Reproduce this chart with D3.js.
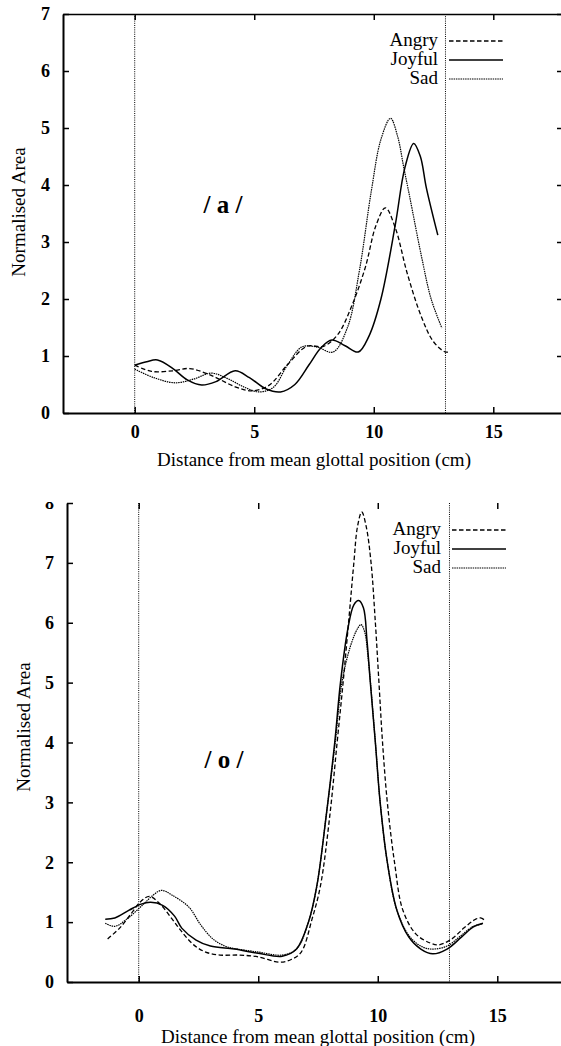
<!DOCTYPE html>
<html>
  <head>
    <meta charset="utf-8">
    <script src="https://cdn.jsdelivr.net/npm/d3@7"></script>
    <style>
      body { margin: 0; background: #fff; }
    </style>
  </head>
  <body>
    <script type="text/javascript">
      // ---- data ----
      var seriesNames = ["Angry", "Joyful", "Sad"];
      var xTickValues = [0, 5, 10, 15];
      var yTicksA = [0, 1, 2, 3, 4, 5, 6, 7];
      var yTicksO = [0, 1, 2, 3, 4, 5, 6, 7, 8];
      var markerLines = [0, 13];   // dotted verticals (cm)

      // vowel /a/  [distance cm, normalised area]
      var angryA = [[0,0.84],[0.7,0.73],[1.6,0.74],[2.3,0.78],[3.2,0.66],[4.2,0.46],[4.9,0.39],[5.6,0.48],
        [6.4,0.85],[7.2,1.17],[7.9,1.17],[8.5,1.38],[9.1,1.9],[9.65,2.56],[10.1,3.3],[10.49,3.6],[10.9,3.25],
        [11.4,2.45],[12.0,1.68],[12.5,1.25],[13.0,1.07],[13.2,1.08]];
      var joyfulA = [[0,0.84],[0.5,0.9],[0.95,0.93],[1.6,0.78],[2.2,0.58],[2.8,0.49],[3.4,0.55],[4.2,0.74],
        [4.8,0.62],[5.5,0.42],[6.1,0.37],[6.7,0.5],[7.3,0.85],[7.8,1.15],[8.25,1.28],[8.8,1.18],[9.35,1.07],
        [9.8,1.35],[10.3,2.0],[10.9,3.3],[11.3,4.3],[11.67,4.73],[11.95,4.5],[12.2,3.95],[12.68,3.12]];
      var sadA = [[0,0.77],[0.8,0.62],[1.7,0.53],[2.5,0.6],[3.2,0.7],[3.9,0.6],[4.6,0.45],[5.2,0.37],[5.8,0.45],
        [6.4,0.85],[7.0,1.16],[7.6,1.16],[8.3,1.07],[8.9,1.5],[9.4,2.5],[9.9,3.9],[10.3,4.8],[10.7,5.17],
        [11.0,4.85],[11.25,4.32],[11.5,3.8],[12.0,2.74],[12.4,2.0],[12.85,1.49]];

      // vowel /o/
      var angryO = [[-1.3,0.72],[-0.8,0.9],[-0.3,1.15],[0.1,1.35],[0.45,1.43],[0.9,1.3],[1.4,1.05],[1.8,0.84],
        [2.3,0.62],[2.8,0.5],[3.4,0.45],[4.2,0.45],[5.0,0.42],[5.9,0.33],[6.4,0.38],[6.8,0.5],[7.25,1.05],
        [7.6,1.6],[8.0,2.8],[8.3,4.0],[8.55,5.0],[8.8,6.1],[9.0,7.0],[9.15,7.6],[9.33,7.85],[9.52,7.6],[9.72,7.0],
        [9.9,6.0],[10.05,5.0],[10.2,4.0],[10.4,3.0],[10.7,2.0],[11.05,1.2],[11.6,0.8],[12.2,0.65],[12.55,0.62],
        [13.1,0.72],[13.6,0.9],[14.1,1.05],[14.3,1.07],[14.45,1.04]];
      var joyfulO = [[-1.4,1.05],[-1.0,1.07],[-0.4,1.2],[0.1,1.3],[0.5,1.33],[1.0,1.28],[1.5,1.1],[1.8,0.9],
        [2.4,0.7],[3.0,0.6],[4.0,0.55],[5.0,0.48],[6.0,0.43],[6.6,0.55],[7.1,1.0],[7.45,1.6],[7.85,2.8],
        [8.2,4.0],[8.44,5.0],[8.75,5.9],[9.0,6.3],[9.2,6.37],[9.4,6.25],[9.55,5.7],[9.69,5.0],[9.9,4.0],
        [10.1,3.0],[10.4,2.0],[10.8,1.2],[11.3,0.75],[11.8,0.55],[12.3,0.47],[12.9,0.55],[13.5,0.75],
        [14.0,0.92],[14.4,0.98]];
      var sadO = [[-1.4,0.98],[-1.0,0.93],[-0.5,1.05],[0.2,1.3],[0.6,1.45],[0.95,1.53],[1.4,1.45],[2.1,1.25],
        [2.6,0.95],[3.1,0.72],[3.6,0.6],[4.0,0.56],[5.0,0.5],[6.0,0.45],[6.6,0.55],[7.1,1.0],[7.45,1.6],
        [7.85,2.8],[8.22,4.0],[8.5,5.0],[8.85,5.6],[9.15,5.9],[9.3,5.97],[9.45,5.85],[9.6,5.4],[9.9,4.0],
        [10.1,3.0],[10.4,2.0],[10.8,1.2],[11.35,0.75],[11.9,0.58],[12.3,0.55],[12.9,0.6],[13.5,0.78],
        [14.0,0.93],[14.4,0.97]];

      // ---- drawing ----
      var serif = "'Liberation Serif', 'DejaVu Serif', serif";
      var styles = {
        Angry:  { dash: "4.5,2.5", width: 1.3, color: "#000" },
        Joyful: { dash: null,      width: 1.5, color: "#000" },
        Sad:    { dash: "1.5,0.8", width: 1.2, color: "#000" }
      };

      var svg = d3.select("body").append("svg")
        .attr("width", 561)
        .attr("height", 1046);

      function drawPanel(cfg) {
        var g = svg.append("g");
        var x = d3.scaleLinear().domain([-3, 18]).range([cfg.left, cfg.right]);
        var y = d3.scaleLinear().domain([0, cfg.yMax]).range([cfg.bottom, cfg.top]);

        // clip so that labels cut by the scan stay cut
        var clipId = "clip" + cfg.id;
        svg.append("clipPath").attr("id", clipId)
          .append("rect").attr("x", 0).attr("y", cfg.clipTop).attr("width", 561).attr("height", 600);
        g.attr("clip-path", "url(#" + clipId + ")");

        // left axis
        var left = g.append("g").attr("transform", "translate(" + cfg.left + ",0)")
          .call(d3.axisLeft(y).tickValues(cfg.yTicks).tickFormat(d3.format("d"))
            .tickSize(-6).tickSizeOuter(0).tickPadding(13));
        // bottom axis
        var bottom = g.append("g").attr("transform", "translate(0," + cfg.bottom + ")")
          .call(d3.axisBottom(x).tickValues(xTickValues).tickFormat(d3.format("d"))
            .tickSize(-6).tickSizeOuter(0).tickPadding(cfg.xPad));
        // top ticks (border line only where the scan shows it)
        var top = g.append("g").attr("transform", "translate(0," + cfg.top + ")")
          .call(d3.axisTop(x).tickValues(xTickValues).tickSize(-6).tickSizeOuter(0).tickFormat(""));
        if (!cfg.topLine) top.select(".domain").remove();
        // right ticks, axis itself falls outside the picture
        var right = g.append("g").attr("transform", "translate(" + (cfg.right) + ",0)")
          .call(d3.axisRight(y).tickValues(cfg.yTicks.slice(1)).tickSize(-8).tickSizeOuter(0).tickFormat(""));
        right.select(".domain").remove();

        [left, bottom].forEach(function (a) {
          a.select(".domain").attr("stroke-width", 2);
          a.selectAll(".tick line").attr("stroke-width", 1.5);
          a.selectAll(".tick text")
            .style("font-family", serif)
            .style("font-size", "18px")
            .style("font-weight", "bold");
        });
        top.select(".domain").attr("stroke-width", 1.5);
        top.selectAll(".tick line").attr("stroke-width", 1.5);
        right.selectAll(".tick line").attr("stroke-width", 1.5);

        // dotted marker lines
        g.selectAll(".marker").data(markerLines).enter().append("line")
          .attr("x1", function (d) { return x(d); })
          .attr("x2", function (d) { return x(d); })
          .attr("y1", cfg.top)
          .attr("y2", cfg.bottom)
          .attr("stroke", "#000")
          .attr("stroke-width", 1)
          .attr("stroke-dasharray", "1,1.2");

        // curves
        var line = d3.line()
          .x(function (d) { return x(d[0]); })
          .y(function (d) { return y(d[1]); })
          .curve(d3.curveCatmullRom.alpha(0.5));
        cfg.series.forEach(function (s, i) {
          var st = styles[seriesNames[i]];
          g.append("path")
            .datum(s)
            .attr("d", line)
            .attr("fill", "none")
            .attr("stroke", st.color)
            .attr("stroke-width", st.width)
            .attr("stroke-dasharray", st.dash);
        });

        // legend
        seriesNames.forEach(function (name, i) {
          var st = styles[name];
          var ly = cfg.legendY + i * 19;
          g.append("text")
            .attr("x", cfg.legendX)
            .attr("y", ly + 5)
            .attr("text-anchor", "end")
            .style("font-family", serif)
            .style("font-size", "19px")
            .text(name);
          g.append("line")
            .attr("x1", cfg.legendX + 11).attr("x2", cfg.legendX + 65)
            .attr("y1", ly).attr("y2", ly)
            .attr("stroke", st.color)
            .attr("stroke-width", st.width)
            .attr("stroke-dasharray", st.dash);
        });

        // vowel label
        g.append("text")
          .attr("x", cfg.vowelX).attr("y", cfg.vowelY)
          .attr("text-anchor", "middle")
          .style("font-family", serif)
          .style("font-size", "25px")
          .style("font-weight", "bold")
          .style("white-space", "pre")
          .text(cfg.vowel);

        // axis titles
        g.append("text")
          .attr("x", (cfg.left + cfg.right) / 2)
          .attr("y", cfg.xTitleY)
          .attr("text-anchor", "middle")
          .style("font-family", serif)
          .style("font-size", "19px")
          .text("Distance from mean glottal position (cm)");
        g.append("text")
          .attr("transform", "translate(" + cfg.yTitleX + "," + cfg.yTitleY + ") rotate(-90)")
          .attr("text-anchor", "middle")
          .style("font-family", serif)
          .style("font-size", "19px")
          .text("Normalised Area");
      }

      drawPanel({
        id: "a", left: 63, right: 565, top: 14, bottom: 413, yMax: 7, yTicks: yTicksA,
        xPad: 12, topLine: true, clipTop: 0,
        series: [angryA, joyfulA, sadA],
        legendX: 438, legendY: 41,
        vowel: "/ a /", vowelX: 223, vowelY: 213,
        xTitleY: 466, yTitleX: 25, yTitleY: 212
      });

      drawPanel({
        id: "o", left: 67, right: 569, top: 503, bottom: 982, yMax: 8, yTicks: yTicksO,
        xPad: 27, topLine: false, clipTop: 502,
        series: [angryO, joyfulO, sadO],
        legendX: 441, legendY: 530,
        vowel: "/ o /", vowelX: 224, vowelY: 768,
        xTitleY: 1043, yTitleX: 30, yTitleY: 727
      });
    </script>
  </body>
</html>
